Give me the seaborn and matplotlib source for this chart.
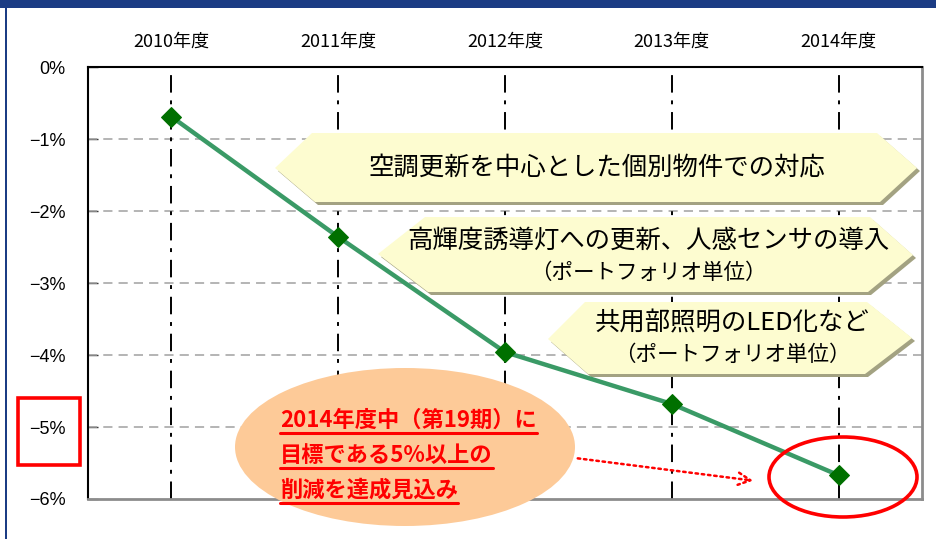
import matplotlib
matplotlib.use("Agg")
import matplotlib.pyplot as plt
import seaborn as sns
import pandas as pd
from matplotlib.patches import Polygon, Ellipse, Rectangle
from matplotlib.lines import Line2D

# ---- data ----
years = ["2010年度", "2011年度", "2012年度", "2013年度", "2014年度"]
reduction = [-0.69, -2.36, -3.96, -4.68, -5.67]
ytick_vals = [0, -1, -2, -3, -4, -5, -6]
ytick_labels = ["0%", "−1%", "−2%", "−3%", "−4%", "−5%", "−6%"]
box_texts = [
    ("空調更新を中心とした個別物件での対応", None),
    ("高輝度誘導灯への更新、人感センサの導入", "（ポートフォリオ単位）"),
    ("共用部照明のLED化など", "（ポートフォリオ単位）"),
]
note_lines = ["2014年度中（第19期）に", "目標である5%以上の", "削減を達成見込み"]

sns.set_theme(style="white")
plt.rcParams['font.family'] = ['Noto Sans CJK JP', 'DejaVu Sans']

W, H = 936, 539
fig = plt.figure(figsize=(W / 100, H / 100), dpi=100)
AX_L, AX_R, AX_T, AX_B = 88, 922, 67, 499
ax = fig.add_axes([AX_L / W, 1 - AX_B / H, (AX_R - AX_L) / W, (AX_B - AX_T) / H])

df = pd.DataFrame({"year": years, "val": reduction})

# pixel -> data helpers for annotation shapes
def dx(px):
    return (px - AX_L) / ((AX_R - AX_L) / 5) - 0.5

def dy(py):
    return -(py - AX_T) / ((AX_B - AX_T) / 6)

# grid
for v in ytick_vals[1:-1]:
    ax.axhline(v, color="#a0a0a0", lw=1.1, dashes=(6, 4), zorder=1)
ax.vlines(range(len(years)), -6, dy(72), colors="black", lw=1.4,
          linestyles=(0, (9, 4, 2, 4)), zorder=2)

# callout boxes
boxes = [
    [(275, 168), (312, 133), (877, 133), (917, 168), (880, 202), (315, 202)],
    [(378, 254), (425, 217), (870, 217), (913, 255), (868, 292), (428, 292)],
    [(548, 339), (585, 302), (867, 302), (912, 338), (865, 374), (588, 374)],
]
for i, pts in enumerate(boxes):
    sh = [(dx(x + 3), dy(y + 3)) for x, y in pts]
    ax.add_patch(Polygon(sh, closed=True, facecolor="#a3a282", edgecolor="none", zorder=3))
    ax.add_patch(Polygon([(dx(x), dy(y)) for x, y in pts], closed=True,
                         facecolor="#fdfcd0", edgecolor="none", zorder=4))

ax.text(dx(597), dy(168), box_texts[0][0], ha="center", va="center", fontsize=18.3,
        color="black", zorder=5)
ax.text(dx(648), dy(241), box_texts[1][0], ha="center", va="center", fontsize=18.3,
        color="black", zorder=5)
ax.text(dx(648), dy(273), box_texts[1][1], ha="center", va="center", fontsize=15.5,
        color="black", zorder=5)
ax.text(dx(732), dy(323), box_texts[2][0], ha="center", va="center", fontsize=18.3,
        color="black", zorder=5)
ax.text(dx(732), dy(355), box_texts[2][1], ha="center", va="center", fontsize=15.5,
        color="black", zorder=5)

# line
sns.lineplot(data=df, x="year", y="val", ax=ax, color="#3a9a66", lw=3.2,
             marker="D", markersize=10, markerfacecolor="#007000",
             markeredgecolor="#007000", zorder=6, sort=False)

# orange ellipse
ax.add_patch(Ellipse((dx(405), dy(447)), width=340 / 166.8, height=158 / 72,
                     facecolor="#fdca98", edgecolor="none", zorder=5, clip_on=False))
note_texts = []
for i, t in enumerate(note_lines):
    note_texts.append(ax.text(dx(280), dy(420 + 35 * i), t, ha="left", va="center",
                              fontsize=16, fontweight="bold", color="#ff0000", zorder=7))

# dotted arrow
ax.annotate("", xy=(dx(756), dy(481)), xytext=(dx(575), dy(458)),
            arrowprops=dict(arrowstyle="->", color="#ff0000", lw=1.8,
                            linestyle=(0, (1, 1.5)), mutation_scale=22),
            zorder=7, annotation_clip=False)

# red ellipse round last point
ax.add_patch(Ellipse((dx(843), dy(477)), width=148 / 166.8, height=80 / 72,
                     facecolor="none", edgecolor="#ff0000", lw=2.6, zorder=8, clip_on=False))

# axes styling
ax.set_xlim(-0.5, 4.5)
ax.set_ylim(-6, 0)
ax.set_yticks(ytick_vals)
ax.set_yticklabels(ytick_labels, fontsize=13, color="black",
                   fontfamily=["Liberation Sans", "DejaVu Sans"])
ax.set_xticks(range(len(years)))
ax.set_xticklabels(years, fontsize=13, color="black")
ax.xaxis.tick_top()
ax.tick_params(axis="x", length=0, pad=12)
ax.tick_params(axis="y", direction="in", length=7, width=1, color="#333333", pad=16, left=True)
ax.set_xlabel("")
ax.set_ylabel("")
for side in ["top", "left"]:
    ax.spines[side].set_color("black")
    ax.spines[side].set_linewidth(1.5)
for side in ["right", "bottom"]:
    ax.spines[side].set_color("#8c8c8c")
    ax.spines[side].set_linewidth(2)

# red rectangle around -5%
fig.add_artist(Rectangle((18 / W, 1 - 465 / H), 62 / W, 67 / H, transform=fig.transFigure,
                         facecolor="none", edgecolor="#ff0000", lw=2.6))

# frame decorations
fig.add_artist(Rectangle((0, 1 - 8 / H), 1, 8 / H, transform=fig.transFigure,
                         facecolor="#1b3c84", edgecolor="none"))
fig.add_artist(Rectangle((5 / W, 0), 2 / W, 1, transform=fig.transFigure,
                         facecolor="#1b3c84", edgecolor="none"))

# underline red note text
fig.canvas.draw()
r = fig.canvas.get_renderer()
for t in note_texts:
    bb = t.get_window_extent(renderer=r)
    yline = bb.y0 - 1
    fig.add_artist(Line2D([bb.x0 / W, bb.x1 / W], [yline / H, yline / H],
                          transform=fig.transFigure, color="#ff0000", lw=2.2, zorder=9))

fig.savefig("out.png", dpi=100)
